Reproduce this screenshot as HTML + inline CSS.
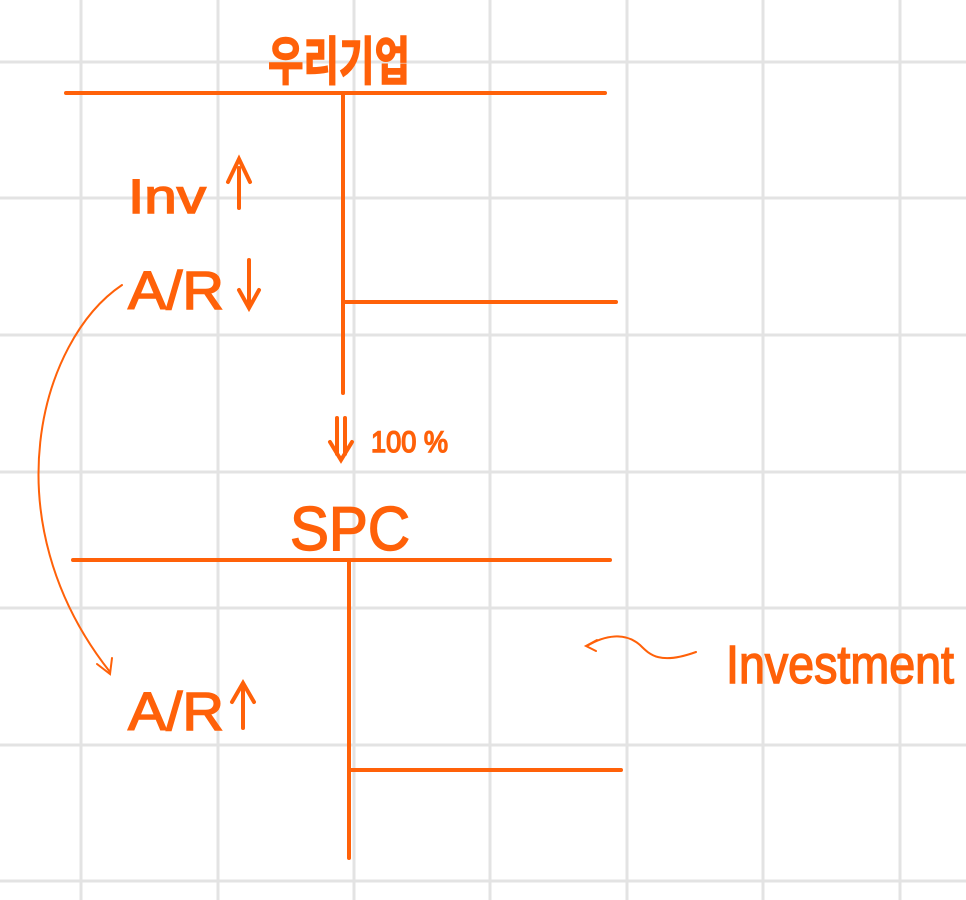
<!DOCTYPE html>
<html><head><meta charset="utf-8"><style>
html,body{margin:0;padding:0;background:#fff;width:966px;height:900px;overflow:hidden}
svg{display:block}
text{font-family:"Liberation Sans","Noto Sans CJK KR",sans-serif;fill:#ff6109;stroke:#ff6109;stroke-width:1.5}
</style></head><body>
<svg width="966" height="900" viewBox="0 0 966 900" xmlns="http://www.w3.org/2000/svg">
<g stroke="#e3e3e3" stroke-width="3">
<line x1="81" y1="0" x2="81" y2="900"/><line x1="218" y1="0" x2="218" y2="900"/><line x1="354" y1="0" x2="354" y2="900"/><line x1="490" y1="0" x2="490" y2="900"/><line x1="627" y1="0" x2="627" y2="900"/><line x1="763" y1="0" x2="763" y2="900"/><line x1="900" y1="0" x2="900" y2="900"/>
<line x1="0" y1="62" x2="966" y2="62"/><line x1="0" y1="198" x2="966" y2="198"/><line x1="0" y1="335" x2="966" y2="335"/><line x1="0" y1="472" x2="966" y2="472"/><line x1="0" y1="608" x2="966" y2="608"/><line x1="0" y1="745" x2="966" y2="745"/><line x1="0" y1="881" x2="966" y2="881"/>
</g>
<g stroke="#ff6109" stroke-width="4" stroke-linecap="round" fill="none">
<line x1="66" y1="93" x2="605" y2="93"/>
<line x1="343" y1="95" x2="343" y2="393"/>
<line x1="345" y1="302" x2="616" y2="302"/>
<line x1="73" y1="560" x2="610" y2="560"/>
<line x1="349" y1="562" x2="349" y2="858"/>
<line x1="351" y1="770" x2="621" y2="770"/>
<line x1="239" y1="168" x2="239" y2="208"/><polyline points="228,182 239,159 250,182"/>
<line x1="249" y1="260" x2="249" y2="307"/><polyline points="239,290 249,308 259,290"/>
<line x1="243" y1="688" x2="243" y2="728"/><polyline points="232,702 243,683 254,702"/>
<line x1="337" y1="418" x2="337" y2="454"/><line x1="345" y1="418" x2="345" y2="454"/><polyline points="330,442 341,460 352,442"/>
</g>
<g stroke="#ff6109" stroke-width="2" fill="none" stroke-linecap="round">
<path d="M122,285 C40,340 -10,520 110,672"/>
<polyline points="97,664 110,674 112,658"/>
<path d="M696,652 C660,665 650,655 640,645 C625,632 605,635 587,646"/>
<polyline points="597,640 586,646 596,651"/>
</g>
<text x="268" y="80" font-size="52" font-weight="bold" textLength="142" lengthAdjust="spacingAndGlyphs">우리기업</text>
<text x="128" y="213" font-size="48" textLength="78" lengthAdjust="spacingAndGlyphs">Inv</text>
<text x="128" y="309" font-size="54" textLength="96" lengthAdjust="spacingAndGlyphs">A/R</text>
<text x="128" y="730" font-size="54" textLength="96" lengthAdjust="spacingAndGlyphs">A/R</text>
<text x="371" y="452" font-size="30" textLength="77" lengthAdjust="spacingAndGlyphs">100 %</text>
<text x="290" y="550" font-size="62" textLength="120" lengthAdjust="spacingAndGlyphs">SPC</text>
<text x="726" y="683" font-size="54" textLength="228" lengthAdjust="spacingAndGlyphs">Investment</text>
</svg>
</body></html>
